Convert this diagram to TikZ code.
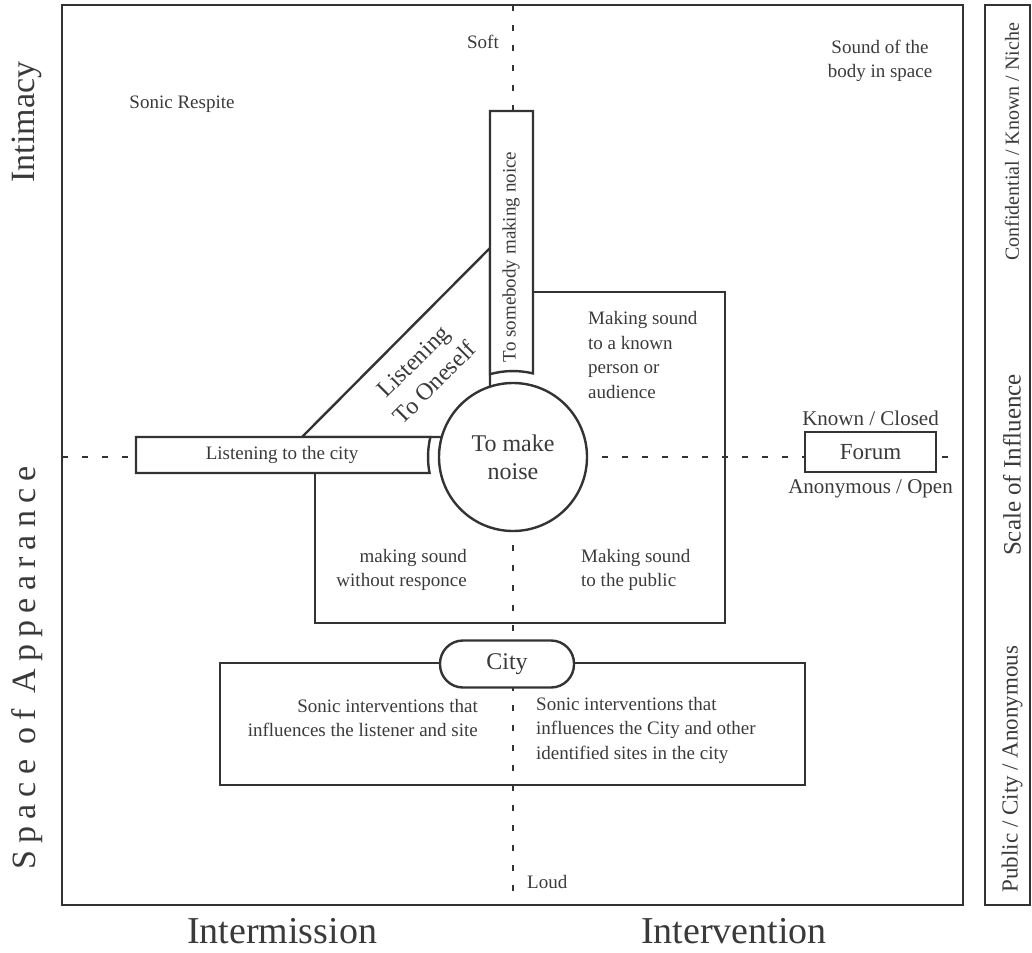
\documentclass[tikz,border=0pt]{standalone}
\usepackage{fontspec}
\setmainfont{Liberation Serif}
\usepackage{xcolor}
\usepackage{tikz}
\usetikzlibrary{positioning,calc}

\definecolor{ink}{HTML}{333333}
\definecolor{txt}{HTML}{3A3A3A}
\newcommand{\txtsize}{\fontsize{19}{24.5}\selectfont}
\newcommand{\bigsize}{\fontsize{24}{28}\selectfont}
\newcommand{\axissize}{\fontsize{34}{40}\selectfont}
\newcommand{\bottomsize}{\fontsize{38}{44}\selectfont}

\begin{document}
\begin{tikzpicture}[
    x=1pt, y=-1pt,
    frame/.style={draw=ink, line width=2.4pt},
    guide/.style={draw=ink, line width=2.6pt, dash pattern=on 6pt off 14pt},
    shapebox/.style={draw=ink, fill=white, line width=2.4pt},
    lbl/.style={text=txt, inner sep=0pt, font=\txtsize, align=center},
    axislbl/.style={text=txt, inner sep=0pt, font=\axissize, rotate=90},
    sidelbl/.style={text=txt, inner sep=0pt, rotate=90}
]
    \useasboundingbox (0,0) rectangle (1032,952);

    % quadrant guides
    \draw[guide] (62,457) -- (963,457);
    \draw[guide] (513,5) -- (513,905);

    % frames
    \draw[frame] (62,5) rectangle (963,905);
    \draw[frame] (985,5) rectangle (1030,905);

    % city box, noise box, triangle
    \draw[frame] (220,663) rectangle (805,785);
    \draw[frame] (533,292) -| (725,623) -| (315,473);
    \draw[frame] (441.8,437) -- (302,437) -- (490,248) -- (490,387);

    % bars round the circle
    \draw[shapebox] (490,111) -- (533,111) -- (533,373.4)
        arc[start angle=-76.55, end angle=-105.5, radius=86] -- cycle;
    \draw[shapebox] (136,437) -- (430.4,437)
        arc[start angle=193.6, end angle=169.15, radius=85] -- (136,473) -- cycle;

    \node[shapebox, circle, minimum size=148pt, inner sep=0pt, font=\bigsize, align=center, text=txt] (noise) at (513,457) {To make\\noise};
    \node[shapebox, rounded corners=23pt, minimum width=134pt, minimum height=47pt, inner sep=0pt, font=\bigsize, text=txt] (city) at (507,664) {City};
    \node[shapebox, minimum width=131pt, minimum height=40pt, inner sep=0pt, font=\fontsize{23}{27}\selectfont, text=txt] (forum) at (870.5,452) {Forum};

    \node[lbl, above=5pt of forum, font=\fontsize{21}{25}\selectfont] (known) {Known / Closed};
    \node[lbl, below=6pt of forum, font=\fontsize{21}{25}\selectfont] (anon) {Anonymous / Open};

    \node[lbl, anchor=east] (soft) at (499,42) {Soft};
    \node[lbl, anchor=west] (loud) at (527,882) {Loud};
    \node[lbl] (respite) at (182,104) {Sonic Respite};
    \node[lbl] (bodysp) at (880,61) {Sound of the\\body in space};

    \node[lbl, rotate=90] (tosome) at (511,257) {To somebody making noice};
    \node[lbl, rotate=45, font=\fontsize{24}{30}\selectfont] (oneself) at (424,372) {Listening\\To Oneself};
    \node[lbl] (lcity) at (282,455) {Listening to the city};

    \node[lbl, align=left, anchor=west] (mknown) at (588,355) {Making sound\\to a known\\person or\\audience};
    \node[lbl, align=right, anchor=east] (mnoresp) at (467,570) {making sound\\without responce};
    \node[lbl, align=left, anchor=west] (mpublic) at (581,570) {Making sound\\to the public};

    \node[lbl, align=right, anchor=east] (citylist) at (478,718) {Sonic interventions that\\influences the listener and site};
    \node[lbl, align=left, anchor=west] (cityother) at (536,730) {Sonic interventions that\\influences the City and other\\identified sites in the city};

    % axis labels
    \node[axislbl] (intim) at (27,122) {Intimacy};
    \node[axislbl, font=\axissize\addfontfeature{LetterSpace=21}] (space) at (27,668) {Space of Appearance};
    \node[text=txt, inner sep=0pt, font=\bottomsize] (intermis) at (282,931) {Intermission};
    \node[text=txt, inner sep=0pt, font=\bottomsize] (interv) at (734,931) {Intervention};

    % scale of influence
    \node[sidelbl, font=\fontsize{20}{24}\selectfont] (conf) at (1012,142) {Confidential / Known / Niche};
    \node[sidelbl, font=\fontsize{25}{29}\selectfont] (scale) at (1012,465) {Scale of Influence};
    \node[sidelbl, font=\fontsize{23}{27}\selectfont] (public) at (1012,769) {Public / City / Anonymous};
\end{tikzpicture}
\end{document}
